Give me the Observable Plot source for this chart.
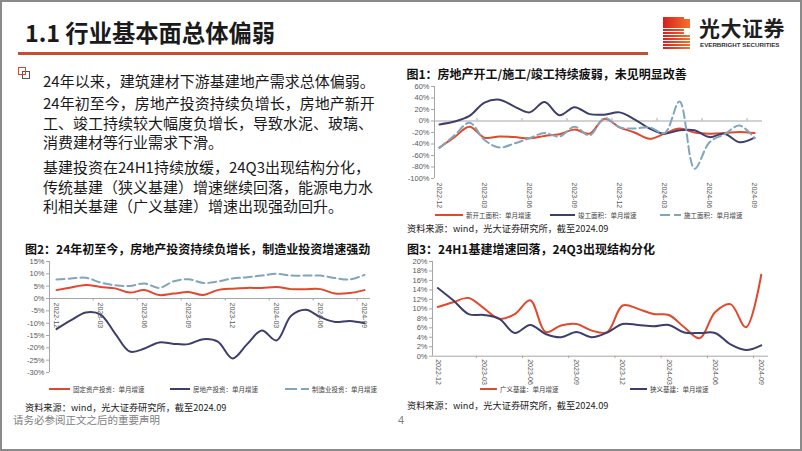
<!DOCTYPE html>
<html>
<head>
<meta charset="utf-8">
<script src="https://cdn.jsdelivr.net/npm/d3@7"></script>
<script src="https://cdn.jsdelivr.net/npm/@observablehq/plot@0.6"></script>
<style>
html,body{margin:0;padding:0;background:#fff;}
#slide{position:relative;width:802px;height:451px;overflow:hidden;font-family:"Noto Sans CJK SC","Noto Sans",sans-serif;color:#1a1a1a;}
.abs{position:absolute;white-space:nowrap;}
.para{font-size:15px;line-height:19.5px;color:#1a1a1a;left:43px;}
.ctitle{font-size:12px;line-height:14px;font-weight:700;color:#111;}
.src{font-size:9.2px;line-height:11px;color:#222;}
.leg{position:absolute;display:flex;align-items:center;font-size:6.5px;color:#404040;white-space:nowrap;}
.leg svg{margin-right:3px;}
.plotbox{position:absolute;}
</style>
</head>
<body>
<div id="slide">
  <div class="abs" style="left:25px;top:20px;font-size:23.3px;line-height:24px;font-weight:700;color:#1a1a1a;">1.1 行业基本面总体偏弱</div>
  <div class="abs" style="left:18px;top:52px;width:630px;height:2.5px;background:#c5502f;"></div>

  <!-- logo -->
  <div class="abs" style="left:663px;top:17px;width:27px;height:33px;background:linear-gradient(90deg,#d91f1f,#f2732a);"></div>
  <div class="abs" style="left:663px;top:26px;width:27px;height:24px;background:repeating-linear-gradient(to bottom,rgba(255,255,255,0) 0 2px,#fff 2px 3px);"></div>
  <div class="abs" style="left:684px;top:29px;width:6px;height:5px;background:#fff;"></div>
  <div class="abs" style="left:684px;top:17px;width:6px;height:2px;background:#fff;"></div>
  <div class="abs" style="left:699px;top:14px;font-size:21px;line-height:26px;font-weight:700;color:#1f1f1f;letter-spacing:0.5px;">光大证券</div>
  <div class="abs" style="left:700px;top:41px;font-family:'Liberation Sans',Arial,sans-serif;font-size:6.2px;line-height:8px;font-weight:700;color:#333;">EVERBRIGHT SECURITIES</div>

  <!-- bullet -->
  <div class="abs" style="left:22px;top:71px;width:6px;height:6px;border:1.3px solid #555;"></div>
  <div class="abs" style="left:18px;top:67px;width:6px;height:6px;border:1.5px solid #d9452b;"></div>

  <div class="abs para" style="top:71px;">24年以来，建筑建材下游基建地产需求总体偏弱。</div>
  <div class="abs para" style="top:93.3px;">24年初至今，房地产投资持续负增长，房地产新开<br>工、竣工持续较大幅度负增长，导致水泥、玻璃、<br>消费建材等行业需求下滑。</div>
  <div class="abs para" style="top:157.3px;">基建投资在24H1持续放缓，24Q3出现结构分化，<br>传统基建（狭义基建）增速继续回落，能源电力水<br>利相关基建（广义基建）增速出现强劲回升。</div>

  <div class="abs ctitle" style="left:406.5px;top:67.3px;">图1：房地产开工/施工/竣工持续疲弱，未见明显改善</div>
  <div class="abs ctitle" style="left:25px;top:242px;">图2：24年初至今，房地产投资持续负增长，制造业投资增速强劲</div>
  <div class="abs ctitle" style="left:407px;top:242px;">图3：24H1基建增速回落，24Q3出现结构分化</div>

  <div class="abs src" style="left:407px;top:222.5px;">资料来源：wind，光大证券研究所，截至2024.09</div>
  <div class="abs src" style="left:25px;top:401.5px;">资料来源：wind，光大证券研究所，截至2024.09</div>
  <div class="abs src" style="left:407px;top:400px;">资料来源：wind，光大证券研究所，截至2024.09</div>

  <div class="abs" style="left:13px;top:413px;font-size:10.5px;line-height:14px;color:#808080;">请务必参阅正文之后的重要声明</div>
  <div class="abs" style="left:398px;top:413px;font-size:11px;line-height:14px;color:#808080;font-family:'Liberation Sans',Arial,sans-serif;">4</div>

  <div id="c1" class="plotbox" style="left:400px;top:78px;"></div>
  <div id="c2" class="plotbox" style="left:10px;top:255px;"></div>
  <div id="c3" class="plotbox" style="left:400px;top:255px;"></div>

  <div class="abs" style="left:0;top:0;width:802px;height:451px;box-sizing:border-box;border:2px solid #8a8a8a;pointer-events:none;"></div>
</div>

<script>
// ---------- data ----------
const months = ["2022-12","2023-01","2023-02","2023-03","2023-04","2023-05","2023-06","2023-07","2023-08","2023-09","2023-10","2023-11","2023-12","2024-01","2024-02","2024-03","2024-04","2024-05","2024-06","2024-07","2024-08","2024-09"];
const tickMonths = ["2022-12","2023-03","2023-06","2023-09","2023-12","2024-03","2024-06","2024-09"];

// 图1 (%, 单月增速)
const newStartArea   = [-46,-28,-10,-29,-27,-28,-30,-26,-23,-15,-22,4,-11,-20,-31,-22,-13,-20,-22,-21,-19,-21];
const completedArea  = [-6,-1,9,32,37,25,15,33,10,24,12,11,15,3,-13,-22,-16,-16,-28,-22,-37,-29];
const constructArea  = [-47,-25,-3,-33,-46,-39,-30,-21,-27,-10,-25,5,-11,-13,-11,-21,34,-83,-37,-23,-8,-30];
const yTicks1 = [-100,-80,-60,-40,-20,0,20,40,60];

// 图2 (%, 单月增速)
const fixedAssetInv   = [3.4,4.5,5.5,4.7,4.1,2.4,3.4,1.4,2.0,2.6,1.4,3.4,4.0,4.3,4.3,4.7,3.8,3.8,3.8,2.0,2.2,3.4];
const realEstateInv   = [-12.4,-8.8,-5.7,-6.5,-14.2,-21.5,-20.3,-17.8,-18.4,-18.5,-16.5,-17.5,-24.3,-18.5,-13.0,-17.0,-7.0,-4.6,-7.6,-9.5,-9.1,-10.0];
const manufacturingInv= [7.7,8.1,8.4,6.5,5.4,5.1,6.1,4.3,7.0,7.8,6.3,6.9,8.1,8.6,9.3,10.0,9.3,9.3,9.3,8.3,7.7,9.6];
const yTicks2 = [-30,-25,-20,-15,-10,-5,0,5,10,15];

// 图3 (%, 单月增速)
const broadInfra  = [10.4,11.4,12.3,10.1,7.9,8.9,11.8,5.1,6.5,6.8,5.4,5.1,10.7,10.0,8.9,8.7,6.1,3.8,9.3,11.0,6.1,17.2];
const narrowInfra = [14.4,11.8,8.9,8.7,7.9,4.9,6.6,4.7,4.0,5.1,4.0,5.0,6.8,6.6,6.3,6.6,5.0,4.9,4.9,2.5,1.3,2.3];
const yTicks3 = [0,2,4,6,8,10,12,14,16,18,20];

// ---------- styles ----------
const RED = "#e2482b", NAVY = "#3d3e6b", BLUE = "#80a5bc", AXIS = "#a6a6a6", LABEL = "#595959";
const DASH = "8,4";

function rows(values){ return values.map((v, i) => ({i, v})); }
const tickIdx = tickMonths.map(m => months.indexOf(m));

function makeChart(cfg){
  const [x0] = cfg.xDomain;
  const marks = [
    Plot.axisY(cfg.yTicks, {tickSize: 3, tickPadding: 2, tickFormat: d => d + "%", stroke: AXIS, fill: LABEL, fontSize: 7.5, label: null}),
    Plot.ruleX([x0], {stroke: AXIS, strokeWidth: 1}),
    Plot.ruleY([0], {stroke: AXIS, strokeWidth: 1}),
    Plot.ruleX(tickIdx.slice(1), {x: d => d - 0.5, y1: 0, y2: cfg.tickLen, stroke: AXIS})
  ];
  for (const s of cfg.series){
    marks.push(Plot.line(rows(s.values), {x: "i", y: "v", curve: "catmull-rom", stroke: s.color, strokeWidth: 2, strokeDasharray: s.dash || null}));
  }
  marks.push(Plot.text(tickIdx, {x: d => d, y: cfg.labelY, text: d => months[d], rotate: 90, textAnchor: "start", dy: cfg.labelDy, fontSize: 7, fill: LABEL}));
  return Plot.plot({
    width: cfg.width, height: cfg.height,
    marginLeft: cfg.mL, marginRight: cfg.mR, marginTop: cfg.mT, marginBottom: cfg.mB,
    x: {domain: cfg.xDomain, axis: null, label: null},
    y: {domain: cfg.yDomain, axis: null, label: null},
    style: {fontFamily: "'Liberation Sans', Arial, sans-serif", fontSize: "7.5px", color: LABEL, background: "transparent", overflow: "visible"},
    marks
  });
}

const chart1 = makeChart({
  width: 380, height: 135, mL: 34, mR: 18, mT: 8, mB: 35,
  xDomain: [-0.333, 21.53], yDomain: [-100, 60], yTicks: yTicks1,
  tickLen: 4, labelY: -100, labelDy: 4,
  series: [
    {values: newStartArea, color: RED},
    {values: completedArea, color: NAVY},
    {values: constructArea, color: BLUE, dash: DASH}
  ]
});
document.getElementById("c1").append(chart1);

const chart2 = makeChart({
  width: 370, height: 122, mL: 39, mR: 10, mT: 6, mB: 5,
  xDomain: [-0.477, 21.41], yDomain: [-30, 15], yTicks: yTicks2,
  tickLen: -1, labelY: 0, labelDy: 4,
  series: [
    {values: fixedAssetInv, color: RED},
    {values: realEstateInv, color: NAVY},
    {values: manufacturingInv, color: BLUE, dash: DASH}
  ]
});
document.getElementById("c2").append(chart2);

const chart3 = makeChart({
  width: 380, height: 130, mL: 32, mR: 12, mT: 6, mB: 29.3,
  xDomain: [-0.344, 21.47], yDomain: [0, 20], yTicks: yTicks3,
  tickLen: -0.5, labelY: 0, labelDy: 3,
  series: [
    {values: broadInfra, color: RED},
    {values: narrowInfra, color: NAVY}
  ]
});
document.getElementById("c3").append(chart3);

// ---------- legends ----------
const slide = document.getElementById("slide");
function legend(x, y, len, color, dash, label){
  const el = document.createElement("div");
  el.className = "leg";
  el.style.left = x + "px";
  el.style.top = (y - 5) + "px";
  el.style.height = "10px";
  el.innerHTML = `<svg width="${len}" height="4"><line x1="0" y1="2" x2="${len}" y2="2" stroke="${color}" stroke-width="2" ${dash ? `stroke-dasharray="${dash}"` : ""}/></svg><span>${label}</span>`;
  slide.append(el);
}
legend(435, 215, 28, RED, null, "新开工面积：单月增速");
legend(550, 215, 25, NAVY, null, "竣工面积：单月增速");
legend(660, 215, 21, BLUE, "10,4", "施工面积：单月增速");
legend(49, 389, 21, RED, null, "固定资产投资：单月增速");
legend(170, 389, 20, NAVY, null, "房地产投资：单月增速");
legend(285, 389, 24, BLUE, "12,4", "制造业投资：单月增速");
legend(480, 389, 17, RED, null, "广义基建：单月增速");
legend(630, 389, 17, NAVY, null, "狭义基建：单月增速");
</script>
</body>
</html>
